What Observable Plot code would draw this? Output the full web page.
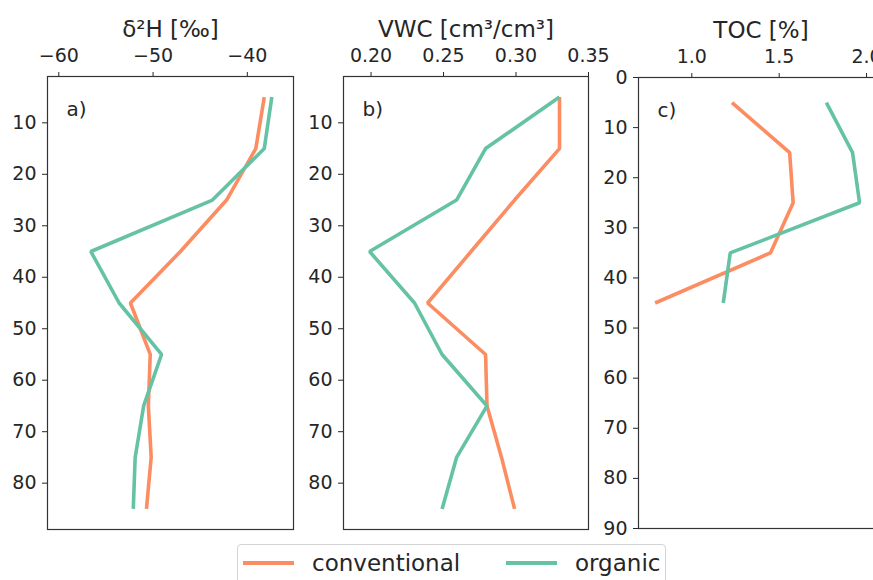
<!DOCTYPE html>
<html>
<head>
<meta charset="utf-8">
<script src="https://cdn.jsdelivr.net/npm/d3@7"></script>
<script src="https://cdn.jsdelivr.net/npm/@observablehq/plot@0.6"></script>
<style>
  html, body { margin: 0; padding: 0; background: #fff; }
  #wrap { position: relative; width: 873px; height: 580px; overflow: hidden; font-family: "DejaVu Sans", sans-serif; color: #262626; }
  .panel { position: absolute; left: 0; top: 0; }
  #legend { position: absolute; left: 237px; top: 544px; width: 429px; height: 46px; border: 1px solid #d3d3d3; border-radius: 4px; box-sizing: border-box; background: #fff; }
  .item { position: absolute; top: 0; height: 36px; display: flex; align-items: center; font-size: 23px; }
  .sw { display: inline-block; width: 51px; height: 4px; margin-right: 18px; }
</style>
</head>
<body>
<div id="wrap"></div>
<script>
// ---- data ----
const depths = [5, 15, 25, 35, 45, 55, 65, 75, 85];
const tocDepths = [5, 15, 25, 35, 45];
const seriesNames = ["conventional", "organic"];
const seriesColors = ["#fc8d62", "#66c2a5"];

const d2hConventional = [-38.2, -39.1, -42.2, -47.1, -52.4, -50.3, -50.5, -50.2, -50.7];
const d2hOrganic      = [-37.4, -38.2, -43.7, -56.6, -53.6, -49.1, -51.0, -51.9, -52.1];

const vwcConventional = [0.330, 0.330, 0.299, 0.269, 0.239, 0.279, 0.280, 0.290, 0.299];
const vwcOrganic      = [0.330, 0.279, 0.259, 0.199, 0.230, 0.249, 0.280, 0.259, 0.249];

const tocConventional = [1.23, 1.56, 1.58, 1.45, 0.79];
const tocOrganic      = [1.77, 1.92, 1.96, 1.22, 1.18];

const panelTitles = ["δ²H [‰]", "VWC [cm³/cm³]", "TOC [%]"];
const panelTags = ["a)", "b)", "c)"];
const xTicksA = [-60, -50, -40];
const xTicksB = [0.20, 0.25, 0.30, 0.35];
const xTicksC = [1.0, 1.5, 2.0];
const yTicksAB = [10, 20, 30, 40, 50, 60, 70, 80];
const yTicksC = [0, 10, 20, 30, 40, 50, 60, 70, 80, 90];

function rows(ds, a, b) {
  return [
    ...ds.map((d, i) => ({depth: d, value: a[i], series: seriesNames[0]})),
    ...ds.map((d, i) => ({depth: d, value: b[i], series: seriesNames[1]}))
  ];
}

const wrap = document.getElementById("wrap");

function panel(cfg) {
  const p = Plot.plot({
    width: cfg.width,
    height: 545,
    marginLeft: cfg.mL,
    marginRight: cfg.width - cfg.right,
    marginTop: cfg.top,
    marginBottom: 545 - cfg.bottom,
    style: "background: transparent; max-width: none; overflow: visible; font-size: 19px; font-family: 'DejaVu Sans', sans-serif; color: #262626;",
    x: {domain: cfg.xDomain, axis: "top", ticks: cfg.xTicks, tickFormat: cfg.xFormat, tickSize: 5, tickPadding: 10, label: null},
    y: {domain: cfg.yDomain, reverse: true, ticks: cfg.yTicks, tickFormat: d3.format("d"), tickSize: 5, tickPadding: 6, label: null},
    color: {domain: seriesNames, range: seriesColors},
    marks: [
      Plot.frame({stroke: "#333", strokeWidth: 1.2}),
      Plot.line(cfg.data, {x: "value", y: "depth", stroke: "series", strokeWidth: 3.6, strokeLinejoin: "miter", strokeLinecap: "butt"}),
      Plot.text([cfg.tag], {frameAnchor: "top-left", dx: 19, dy: 25, textAnchor: "start", fontSize: 20, fill: "#262626"}),
      Plot.text([cfg.title], {frameAnchor: "top", dy: -56, fontSize: 23, fill: "#262626"})
    ]
  });
  p.classList.add("panel");
  wrap.appendChild(p);
}

panel({
  data: rows(depths, d2hConventional, d2hOrganic),
  xDomain: [-61.2, -35.1], xTicks: xTicksA, xFormat: undefined,
  yDomain: [1, 89], yTicks: yTicksAB,
  width: 300, mL: 47, right: 293, top: 76, bottom: 529,
  tag: panelTags[0], title: panelTitles[0]
});
panel({
  data: rows(depths, vwcConventional, vwcOrganic),
  xDomain: [0.181, 0.35], xTicks: xTicksB, xFormat: d3.format(".2f"),
  yDomain: [1, 89], yTicks: yTicksAB,
  width: 600, mL: 343, right: 588, top: 76, bottom: 529,
  tag: panelTags[1], title: panelTitles[1]
});
panel({
  data: rows(tocDepths, tocConventional, tocOrganic),
  xDomain: [0.695, 2.097], xTicks: xTicksC, xFormat: d3.format(".1f"),
  yDomain: [0, 90], yTicks: yTicksC,
  width: 900, mL: 638, right: 883, top: 77, bottom: 528,
  tag: panelTags[2], title: panelTitles[2]
});

// legend
const legend = document.createElement("div");
legend.id = "legend";
const positions = [5, 268];
seriesNames.forEach((name, i) => {
  const item = document.createElement("div");
  item.className = "item";
  item.style.left = positions[i] + "px";
  const sw = document.createElement("span");
  sw.className = "sw";
  sw.style.background = seriesColors[i];
  const t = document.createElement("span");
  t.textContent = name;
  item.appendChild(sw);
  item.appendChild(t);
  legend.appendChild(item);
});
wrap.appendChild(legend);
</script>
</body>
</html>
